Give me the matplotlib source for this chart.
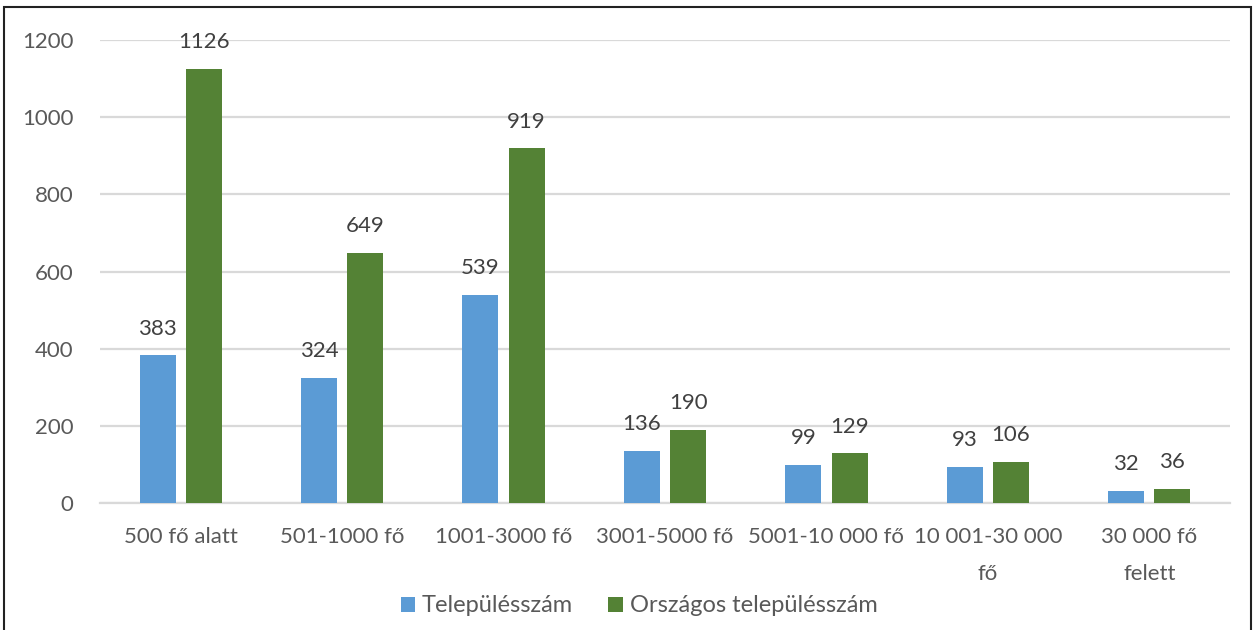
import matplotlib
matplotlib.use("Agg")
import matplotlib.pyplot as plt
import numpy as np
from matplotlib.patches import Rectangle

plt.rcParams["font.family"] = ["Lato", "DejaVu Sans"]

categories = ["500 fő alatt", "501-1000 fő", "1001-3000 fő", "3001-5000 fő",
              "5001-10 000 fő", "10 001-30 000\nfő", "30 000 fő\nfelett"]
telepules = [383, 324, 539, 136, 99, 93, 32]
orszagos = [1126, 649, 919, 190, 129, 106, 36]
series_names = ["Településszám", "Országos településszám"]
yticks = [0, 200, 400, 600, 800, 1000, 1200]

BLUE = "#5B9BD5"; GREEN = "#548235"; GRID = "#d9d9d9"; TXT = "#595959"; LBL = "#404040"
FS = 16

fig = plt.figure(figsize=(12.53, 6.30), dpi=100)
ax = fig.add_axes([100/1253, 1-503/630, 1130/1253, (503-40)/630])

x = np.arange(len(categories))
w = 0.223; off = 0.143
b1 = ax.bar(x-off, telepules, w, color=BLUE, label=series_names[0], zorder=3)
b2 = ax.bar(x+off, orszagos, w, color=GREEN, label=series_names[1], zorder=3)
for bars, vals in ((b1, telepules), (b2, orszagos)):
    for r, v in zip(bars, vals):
        ax.annotate(str(v), (r.get_x()+r.get_width()/2, v), xytext=(0, 12), textcoords="offset points",
                    ha="center", va="bottom", fontsize=FS, color=LBL, clip_on=False)

ax.set_xlim(-0.5, len(categories)-0.5)
ax.set_ylim(0, 1200)
ax.set_yticks(yticks)
ax.set_xticks(x)
ax.set_xticklabels(categories, fontsize=FS, color=TXT, linespacing=2.1)
ax.tick_params(axis="y", length=0, pad=19, labelsize=FS, labelcolor=TXT)
ax.tick_params(axis="x", length=0, pad=17)
ax.grid(axis="y", color=GRID, lw=1.6, zorder=0)
for s in ("top", "right", "left"):
    ax.spines[s].set_visible(False)
ax.spines["bottom"].set_color(GRID); ax.spines["bottom"].set_linewidth(1.6)

fig.legend(loc="center", bbox_to_anchor=(0.51, 1-606/630), ncol=2, frameon=False, fontsize=FS+1,
           handlelength=0.6, handleheight=0.6, handletextpad=0.3, columnspacing=1.5, labelcolor=TXT)

fig.patches.append(Rectangle((4/1253, -0.05), 1247/1253, 1.05-7/630, transform=fig.transFigure,
                             fill=False, edgecolor="#222222", lw=1.5))
fig.savefig("out.png", dpi=100)
